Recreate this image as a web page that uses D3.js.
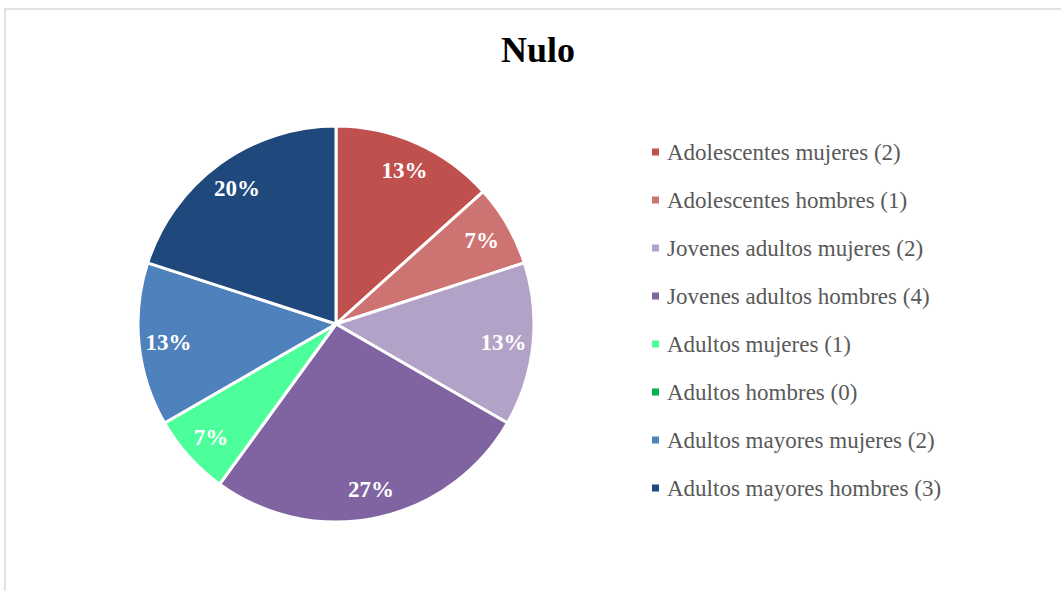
<!DOCTYPE html>
<html>
<head>
<meta charset="utf-8">
<script src="https://cdn.jsdelivr.net/npm/d3@7"></script>
<style>
  html, body { margin: 0; padding: 0; background: #fff; }
  svg { display: block; }
</style>
</head>
<body>
<svg id="chart" width="1061" height="591"></svg>
<script>
// Data
const categories = [
  "Adolescentes mujeres (2)",
  "Adolescentes hombres (1)",
  "Jovenes adultos mujeres (2)",
  "Jovenes adultos hombres (4)",
  "Adultos mujeres (1)",
  "Adultos hombres (0)",
  "Adultos mayores mujeres (2)",
  "Adultos mayores hombres (3)"
];
const values = [2, 1, 2, 4, 1, 0, 2, 3];
const colors = ["#C0504D", "#CD7371", "#B3A2C7", "#8064A2", "#4DFF9A", "#00B050", "#4F81BD", "#1F497D"];
const title = "Nulo";

const svg = d3.select("#chart");
const W = 1061, H = 591;

// Chart frame
svg.append("rect")
  .attr("x", 5).attr("y", 9)
  .attr("width", W + 10).attr("height", H + 10)
  .attr("fill", "#fff")
  .attr("stroke", "#d9d9d9")
  .attr("stroke-width", 1.5);

// Title
svg.append("text")
  .attr("x", 538).attr("y", 62)
  .attr("text-anchor", "middle")
  .attr("font-family", "'Liberation Serif', 'Times New Roman', serif")
  .attr("font-weight", "bold")
  .attr("font-size", 36)
  .attr("fill", "#000")
  .text(title);

// Pie
const cx = 336, cy = 324, r = 198;
const total = d3.sum(values);
const color = d3.scaleOrdinal().domain(categories).range(colors);
const pie = d3.pie().sort(null).value((d, i) => values[i]);
const arcs = pie(categories);
const arc = d3.arc().innerRadius(0).outerRadius(r);
const labelArc = d3.arc().innerRadius(r * 0.85).outerRadius(r * 0.85);

const g = svg.append("g").attr("transform", `translate(${cx},${cy})`);

g.selectAll("path.slice")
  .data(arcs.filter(d => d.value > 0))
  .join("path")
  .attr("class", "slice")
  .attr("d", arc)
  .attr("fill", d => color(d.data))
  .attr("stroke", "#fff")
  .attr("stroke-width", 3)
  .attr("stroke-linejoin", "round");

const pct = d3.format(".0%");
g.selectAll("text.pct")
  .data(arcs.filter(d => d.value > 0))
  .join("text")
  .attr("class", "pct")
  .attr("transform", d => `translate(${labelArc.centroid(d)})`)
  .attr("text-anchor", "middle")
  .attr("dy", "0.35em")
  .attr("font-family", "'Liberation Serif', 'Times New Roman', serif")
  .attr("font-weight", "bold")
  .attr("font-size", 23)
  .attr("fill", "#fff")
  .text(d => pct(d.value / total));

// Legend
const legendY = d3.scalePoint().domain(categories).range([152, 488]);
const legend = svg.append("g");
const items = legend.selectAll("g.item")
  .data(categories)
  .join("g")
  .attr("class", "item")
  .attr("transform", d => `translate(652,${legendY(d)})`);

items.append("rect")
  .attr("x", 0).attr("y", -3.5)
  .attr("width", 7).attr("height", 7)
  .attr("fill", d => color(d));

items.append("text")
  .attr("x", 15).attr("y", 0)
  .attr("dy", "0.35em")
  .attr("font-family", "'Liberation Serif', 'Times New Roman', serif")
  .attr("font-size", 23)
  .attr("fill", "#595959")
  .text(d => d);
</script>
</body>
</html>
